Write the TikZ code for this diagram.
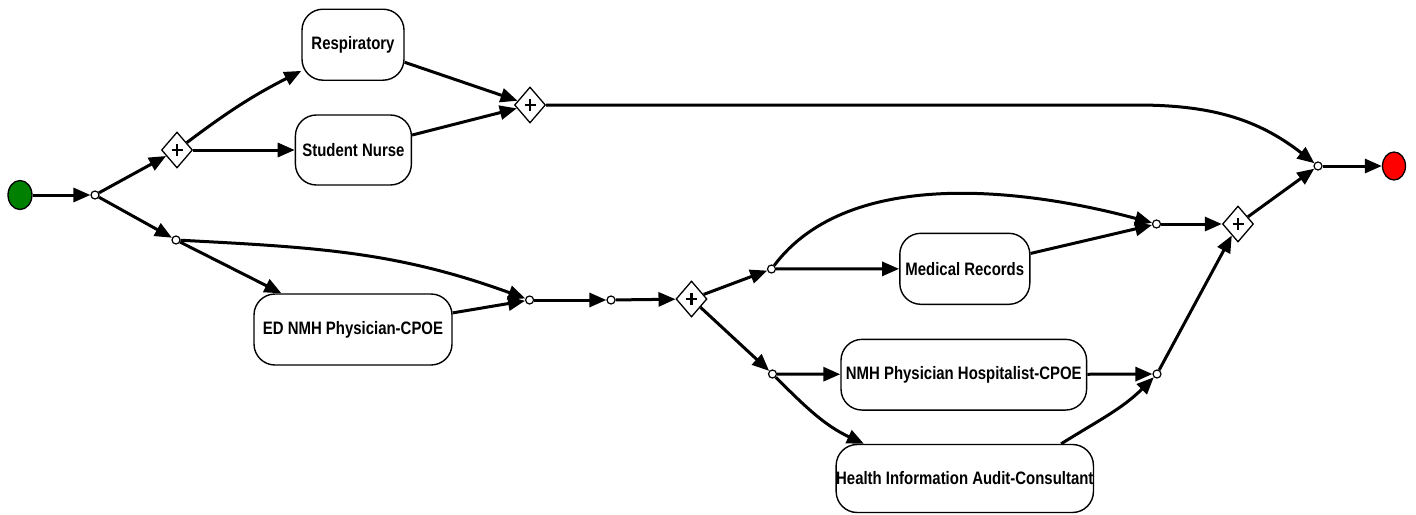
\documentclass[tikz,border=0pt]{standalone}
\usepackage{fontspec}
\newfontfamily\labfont{Liberation Sans}[FakeStretch=0.83]
\usetikzlibrary{shapes.geometric,arrows.meta,calc}
\begin{document}
\begin{tikzpicture}[x=1pt,y=1pt,
  conn/.style={line width=3pt,-{Triangle[length=17pt,width=14pt]}},
  task/.style={draw,line width=1.4pt,rounded corners=21pt,align=center,
    font=\labfont\bfseries\fontsize{18}{20}\selectfont,inner sep=0pt},
  junc/.style={circle,draw,fill=white,line width=1.2pt,minimum size=8pt,inner sep=0pt},
  gate/.style={diamond,draw,fill=white,line width=1.3pt,minimum width=31pt,minimum height=36pt,inner sep=0pt,
    path picture={
      \draw[line width=2.6pt] ([xshift=-5.5pt]path picture bounding box.center) -- ([xshift=5.5pt]path picture bounding box.center);
      \draw[line width=2.6pt] ([yshift=-6pt]path picture bounding box.center) -- ([yshift=6pt]path picture bounding box.center);}},
  event/.style={ellipse,draw,line width=1.3pt,inner sep=0pt}
]
\useasboundingbox (0,-514) rectangle (1416,0);
\definecolor{startgreen}{RGB}{0,128,0}
% events
\node[event,fill=startgreen,minimum width=24pt,minimum height=29pt] (start) at (20,-195) {};
\node[event,fill=red,minimum width=23pt,minimum height=28pt] (end) at (1394,-166) {};
% junctions
\node[junc] (j1) at (95,-195) {};
\node[junc] (j2) at (176,-240) {};
\node[junc] (j3) at (529.6,-300) {};
\node[junc] (j4) at (611,-300) {};
\node[junc] (j5) at (771.5,-269) {};
\node[junc] (j6) at (772.5,-374) {};
\node[junc] (j7) at (1156.5,-224) {};
\node[junc] (j8) at (1157,-374) {};
\node[junc] (j9) at (1318,-166) {};
% gateways
\node[gate] (g1) at (177,-150) {};
\node[gate] (g2) at (530,-105) {};
\node[gate] (g3) at (691.5,-299) {};
\node[gate] (g4) at (1238,-224) {};
% tasks
\node[task,minimum width=102pt,minimum height=71pt] (resp) at (353,-44.7) {Respiratory};
\node[task,minimum width=116pt,minimum height=70pt] (student) at (353.4,-150) {Student Nurse};
\node[task,minimum width=198pt,minimum height=71pt] (ed) at (353,-329.5) {ED NMH Physician-CPOE};
\node[task,minimum width=130pt,minimum height=71pt] (med) at (964.8,-268.8) {Medical Records};
\node[task,minimum width=245.6pt,minimum height=70.7pt] (nmh) at (963.8,-374.7) {NMH Physician Hospitalist-CPOE};
\node[task,minimum width=256.5pt,minimum height=68pt] (hi) at (964.8,-478.5) {Health Information Audit-Consultant};
% connectors
\draw[conn] (start) -- (j1);
\draw[conn] (j1) -- (g1);
\draw[conn] (j1) -- (j2);
\draw[conn] (g1) to[out=37,in=207] ($(resp.south west)+(0,10)$);
\draw[conn] (g1.east) -- (student.west);
\draw[conn] (resp) -- (g2);
\draw[conn] (student) -- (g2);
\draw[conn] (g2.east) -- ++(590,0) to[out=0,in=142] (j9);
\draw[conn] (j2) -- (ed);
\draw[conn] (j2) to[out=-3,in=160] (j3);
\draw[conn] (ed) -- (j3);
\draw[conn] (j3) -- (j4);
\draw[conn] (j4) -- (g3);
\draw[conn] (g3) -- (j5);
\draw[conn] (g3) -- (j6);
\draw[conn] (j5) -- (med);
\draw[conn] (j5) .. controls (850,-165) and (1030,-190) .. (j7);
\draw[conn] (med) -- (j7);
\draw[conn] (j7) -- (g4);
\draw[conn] (j6) -- (nmh);
\draw[conn] (nmh) -- (j8);
\draw[conn] (j6) to[out=-45,in=155] ($(hi.north west)+(28.5,0)$);
\draw[conn] ($(hi.north east)+(-33,0)$) to[out=32,in=225] (j8);
\draw[conn] (j8) -- (g4);
\draw[conn] (g4) -- (j9);
\draw[conn] (j9) -- (end);
\end{tikzpicture}
\end{document}
